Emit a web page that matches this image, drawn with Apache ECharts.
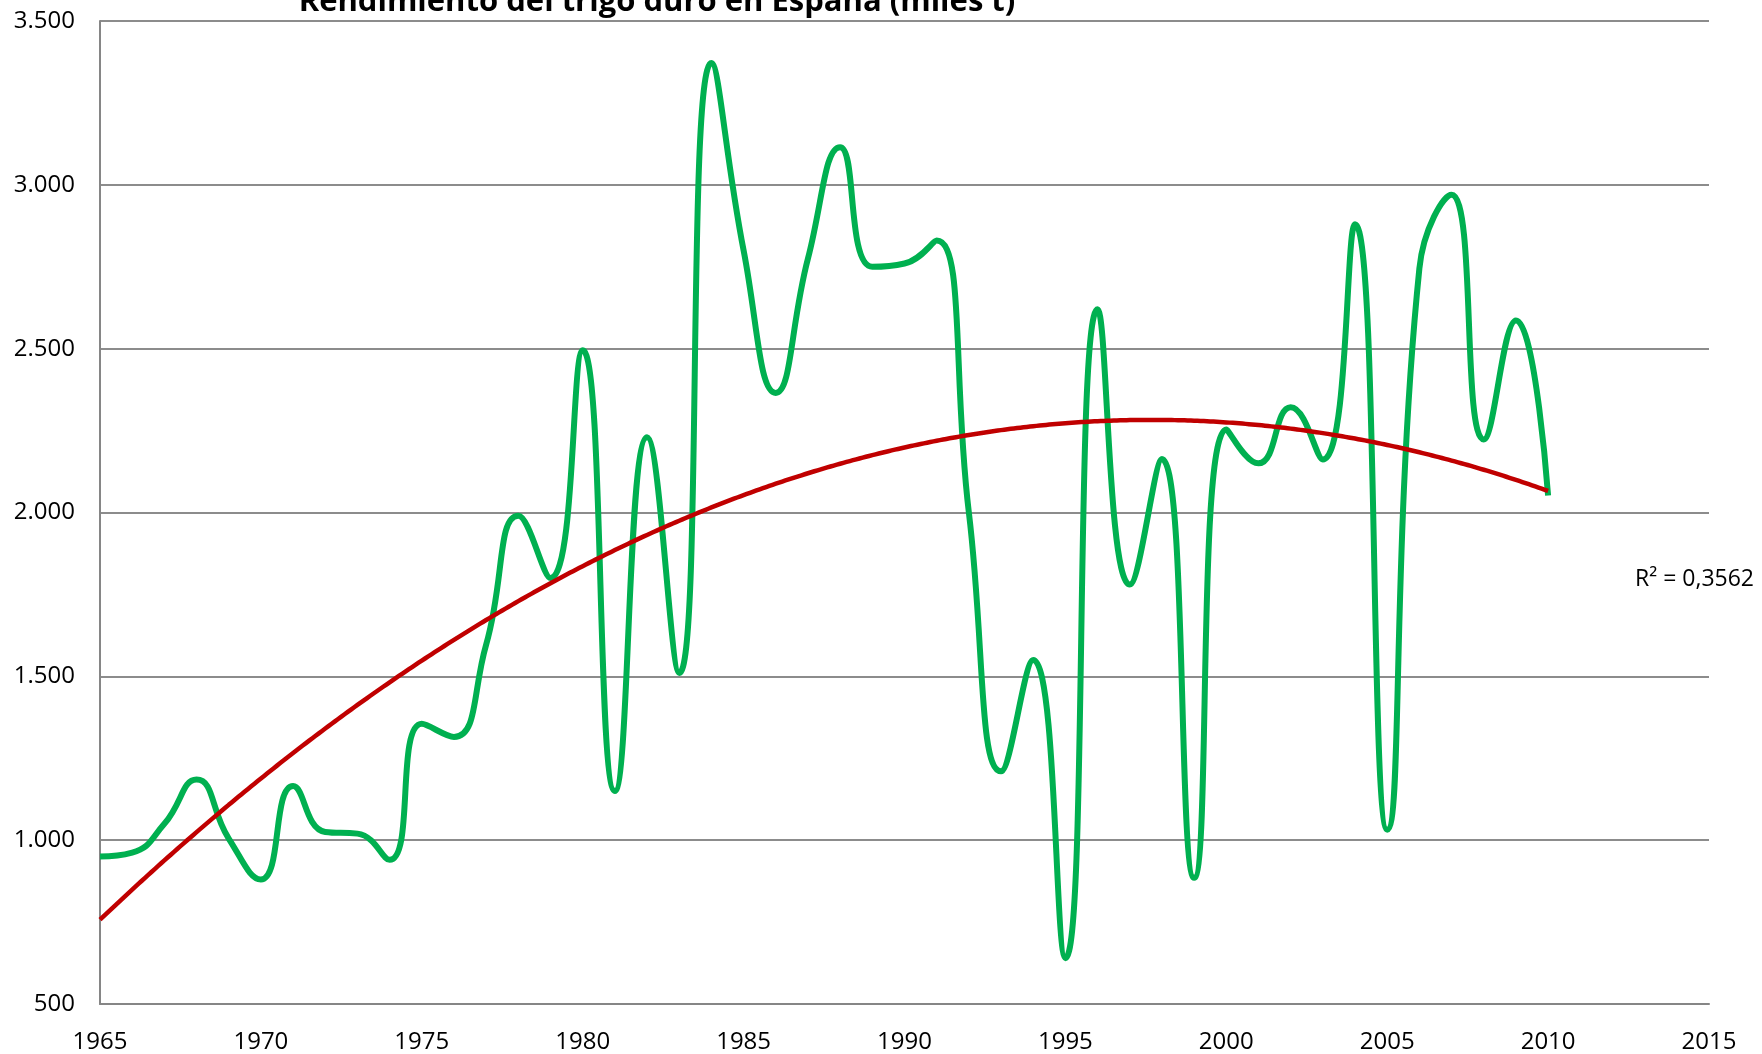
<!DOCTYPE html>
<html>
<head>
<meta charset="utf-8">
<script src="https://cdn.jsdelivr.net/npm/echarts@6/dist/echarts.min.js"></script>
<style>
html,body{margin:0;padding:0;background:#fff;}
#chart{width:1762px;height:1054px;}
</style>
</head>
<body>
<div id="chart"></div>
<script>
// ---- Data ----
const years = [1965,1966,1967,1968,1969,1970,1971,1972,1973,1974,1975,1976,1977,1978,1979,1980,1981,1982,1983,1984,1985,1986,1987,1988,1989,1990,1991,1992,1993,1994,1995,1996,1997,1998,1999,2000,2001,2002,2003,2004,2005,2006,2007,2008,2009,2010];
const rendimiento = [950,962,1050,1185,1005,880,1165,1025,1020,940,1355,1315,1597,1990,1800,2495,1150,2230,1510,3372,2800,2365,2775,3115,2750,2760,2830,2000,1210,1550,640,2620,1780,2163,885,2253,2150,2321,2162,2880,1032,2745,2970,2223,2586,2052];
const xTicks = [1965,1970,1975,1980,1985,1990,1995,2000,2005,2010,2015];
const yTicks = [500,1000,1500,2000,2500,3000,3500];
const titleText = 'Rendimiento del trigo duro en España (miles t)';
const r2Text = 'R² = 0,3562';

// ---- Polynomial (order 2) trend line, least squares ----
function quadFit(xs, ys){
  const x0 = xs[0];
  let S = [0,0,0,0,0], T = [0,0,0];
  for(let i=0;i<xs.length;i++){
    const x = xs[i]-x0, y = ys[i];
    let p = 1;
    for(let k=0;k<5;k++){ S[k]+=p; if(k<3) T[k]+=p*y; p*=x; }
  }
  const A = [[S[0],S[1],S[2],T[0]],[S[1],S[2],S[3],T[1]],[S[2],S[3],S[4],T[2]]];
  for(let c=0;c<3;c++){
    for(let r=c+1;r<3;r++){
      const f = A[r][c]/A[c][c];
      for(let k=c;k<4;k++) A[r][k]-=f*A[c][k];
    }
  }
  const b=[0,0,0];
  for(let r=2;r>=0;r--){
    let s=A[r][3];
    for(let k=r+1;k<3;k++) s-=A[r][k]*b[k];
    b[r]=s/A[r][r];
  }
  return x => { const t=x-x0; return b[0]+b[1]*t+b[2]*t*t; };
}
const trendFn = quadFit(years, rendimiento);
const trendData = [];
for(let i=0;i<=450;i++){ const x = years[0] + i*0.1; trendData.push([x, trendFn(x)]); }

const fontFam = '"Open Sans", "Liberation Sans", sans-serif';
const chart = echarts.init(document.getElementById('chart'), null, {renderer:'canvas'});
chart.setOption({
  animation:false,
  backgroundColor:'#ffffff',
  grid:{left:100,right:53,top:21,bottom:49.5,containLabel:false},
  xAxis:{
    type:'value', min:xTicks[0], max:xTicks[xTicks.length-1], interval:5,
    axisLine:{show:true,lineStyle:{color:'#868686',width:2}},
    axisTick:{show:false},
    splitLine:{show:false},
    axisLabel:{color:'#000',fontSize:24,fontFamily:fontFam,margin:26,formatter:v=>String(v)}
  },
  yAxis:{
    type:'value', min:yTicks[0], max:yTicks[yTicks.length-1], interval:500,
    axisLine:{show:true,lineStyle:{color:'#868686',width:2}},
    axisTick:{show:false},
    splitLine:{show:true,lineStyle:{color:'#8c8c8c',width:2}},
    axisLabel:{color:'#000',fontSize:24,fontFamily:fontFam,margin:25,
      formatter:v=>String(v).replace(/\B(?=(\d{3})+(?!\d))/g,'.')}
  },
  series:[
    {
      type:'line', name:'Rendimiento',
      data: years.map((y,i)=>[y, rendimiento[i]]),
      smooth:0.5, showSymbol:false, symbol:'none',
      lineStyle:{color:'#00B050',width:6}, z:2
    },
    {
      type:'line', name:'Tendencia',
      data: trendData, smooth:false, showSymbol:false, symbol:'none',
      lineStyle:{color:'#C00000',width:4.5}, z:3
    }
  ],
  graphic:[
    {type:'text', x:657, y:2, style:{text:titleText, fill:'#000', font:'bold 31px "Open Sans", sans-serif', align:'center', verticalAlign:'middle'}},
    {type:'text', x:1635, y:579, style:{text:r2Text, fill:'#000', font:'23px "Open Sans", sans-serif', align:'left', verticalAlign:'middle'}}
  ]
});
</script>
</body>
</html>
